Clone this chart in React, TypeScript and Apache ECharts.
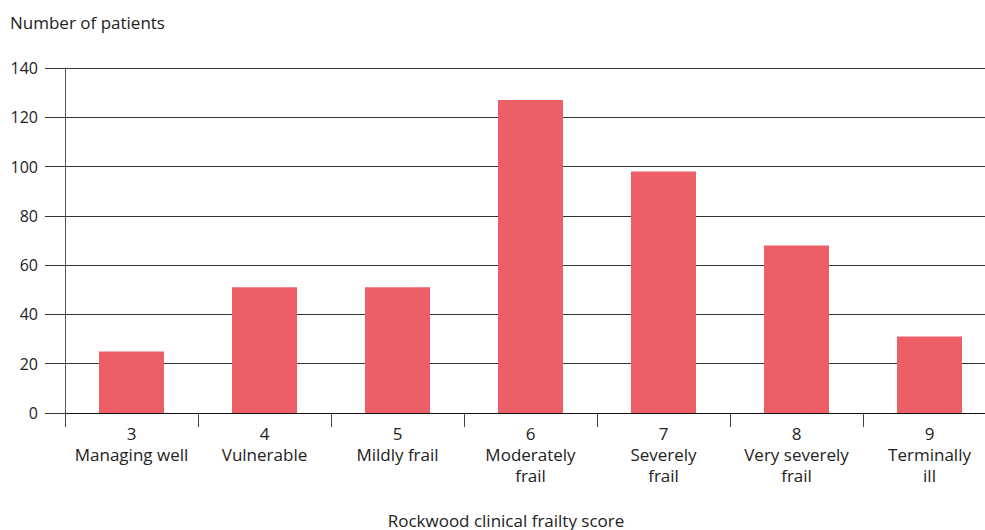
import React, { useEffect, useRef } from "react";
import * as echarts from "echarts";

const scores = ["3", "4", "5", "6", "7", "8", "9"];
const descriptions = [
  "Managing well",
  "Vulnerable",
  "Mildly frail",
  "Moderately\nfrail",
  "Severely\nfrail",
  "Very severely\nfrail",
  "Terminally\nill",
];
const patients = [25, 51, 51, 127, 98, 68, 31];
const yTicks = { min: 0, max: 140, interval: 20 };
const yTitle = "Number of patients";
const xTitle = "Rockwood clinical frailty score";

export default function App() {
  const ref = useRef<HTMLDivElement>(null);
  useEffect(() => {
    if (!ref.current) return;
    const chart = echarts.init(ref.current, null, { renderer: "svg" });
    const font = "'Open Sans', 'Noto Sans', sans-serif";
    const categories = scores.map((s, i) => s + "\n" + descriptions[i]);
    chart.setOption({
      animation: false,
      textStyle: { fontFamily: font },
      grid: { left: 65, top: 68, width: 931, height: 345, containLabel: false },
      xAxis: {
        type: "category",
        data: categories,
        boundaryGap: true,
        axisLine: { show: true, lineStyle: { color: "#111", width: 1 } },
        axisTick: { show: true, length: 14, lineStyle: { color: "#444" } },
        axisLabel: {
          color: "#222",
          fontSize: 17,
          lineHeight: 21,
          margin: 10,
          fontFamily: font,
          interval: 0,
        },
        splitLine: { show: false },
      },
      yAxis: {
        type: "value",
        min: yTicks.min,
        max: yTicks.max,
        interval: yTicks.interval,
        axisLine: { show: true, lineStyle: { color: "#555", width: 1 } },
        axisTick: { show: true, length: 20, lineStyle: { color: "#333" } },
        axisLabel: { color: "#222", fontSize: 16, margin: 27, fontFamily: font },
        splitLine: { show: true, lineStyle: { color: "#333", width: 1 } },
      },
      series: [
        {
          type: "bar",
          data: patients,
          barWidth: 65,
          itemStyle: { color: "#EC5F66" },
        },
      ],
      graphic: [
        {
          type: "text",
          x: 10,
          y: 22,
          style: {
            text: yTitle,
            fill: "#222",
            font: "17px " + font,
            textAlign: "left",
            textVerticalAlign: "middle",
          },
        },
        {
          type: "text",
          x: 506,
          y: 520,
          style: {
            text: xTitle,
            fill: "#222",
            font: "17px " + font,
            textAlign: "center",
            textVerticalAlign: "middle",
          },
        },
      ],
    });
    return () => chart.dispose();
  }, []);
  return (
    <div
      style={{
        position: "fixed",
        left: 0,
        top: 0,
        width: 985,
        height: 530,
        overflow: "hidden",
        background: "#fff",
      }}
    >
      <div ref={ref} style={{ width: 1010, height: 530 }} />
    </div>
  );
}
